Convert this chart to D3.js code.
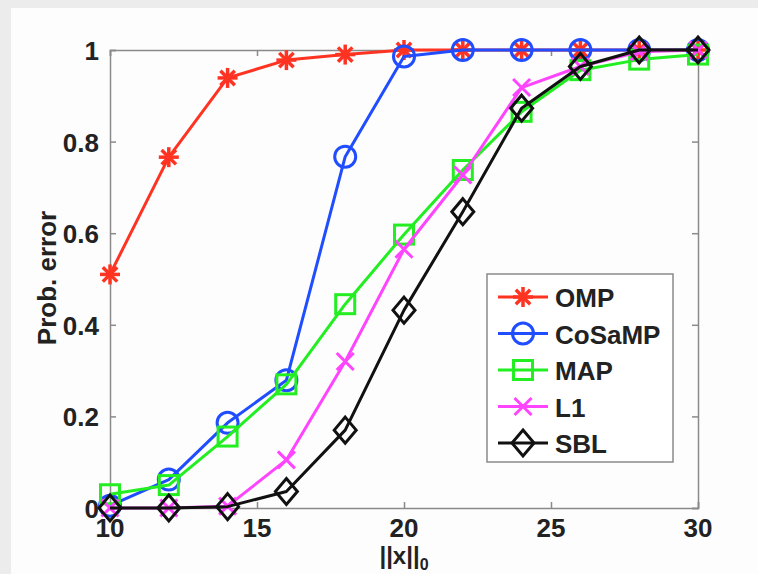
<!DOCTYPE html>
<html>
<head>
<meta charset="utf-8">
<script src="https://cdn.jsdelivr.net/npm/d3@7"></script>
<style>
  html, body { margin: 0; padding: 0; background: #ececec; }
  svg { display: block; }
  text { font-family: "Liberation Sans", Arial, Helvetica, sans-serif; font-weight: bold; fill: #222; }
</style>
</head>
<body>
<svg id="chart" width="758" height="574"></svg>
<script>
// ---- data ----
const xValues = [10, 12, 14, 16, 18, 20, 22, 24, 26, 28, 30];
const seriesNames = ["OMP", "CoSaMP", "MAP", "L1", "SBL"];
const ompValues    = [0.51, 0.766, 0.939, 0.978, 0.99, 1.0, 1.0, 1.0, 1.0, 1.0, 1.0];
const cosampValues = [0.005, 0.062, 0.186, 0.279, 0.767, 0.986, 1.0, 1.0, 1.0, 1.0, 1.0];
const mapValues    = [0.03, 0.05, 0.156, 0.27, 0.445, 0.597, 0.738, 0.865, 0.956, 0.979, 0.99];
const l1Values     = [0.0, 0.0, 0.004, 0.105, 0.32, 0.565, 0.727, 0.918, 0.964, 0.996, 1.0];
const sblValues    = [0.0, 0.0, 0.003, 0.036, 0.17, 0.432, 0.647, 0.873, 0.964, 1.0, 1.0];
const xTicks = [10, 15, 20, 25, 30];
const yTicks = [0, 0.2, 0.4, 0.6, 0.8, 1];
const yTickLabels = ["0", "0.2", "0.4", "0.6", "0.8", "1"];

const seriesValues = [ompValues, cosampValues, mapValues, l1Values, sblValues];
const colors = ["#ff3322", "#1f4dff", "#22ee22", "#ff44ff", "#111111"];
const markers = ["star", "circle", "square", "cross", "diamond"];

// ---- layout ----
const svg = d3.select("#chart");
svg.append("rect").attr("x", 11).attr("y", 8).attr("width", 747).attr("height", 566).attr("fill", "#fdfdfd");

const L = 110, R = 698, T = 50, B = 508;
const x = d3.scaleLinear().domain([10, 30]).range([L, R]);
const y = d3.scaleLinear().domain([0, 1]).range([B, T]);

const axisColor = "#8a8a8a";
const g = svg.append("g");

// axes box with inward ticks
const tickLen = 6;
g.append("g").attr("transform", `translate(0,${B})`)
  .call(d3.axisTop(x).tickValues(xTicks).tickSize(tickLen).tickFormat(""))
  .call(s => { s.selectAll("path,line").attr("stroke", axisColor).attr("stroke-width", 1.5); });
g.append("g").attr("transform", `translate(0,${T})`)
  .call(d3.axisBottom(x).tickValues(xTicks).tickSize(tickLen).tickFormat(""))
  .call(s => { s.selectAll("path,line").attr("stroke", axisColor).attr("stroke-width", 1.5); });
g.append("g").attr("transform", `translate(${L},0)`)
  .call(d3.axisRight(y).tickValues(yTicks).tickSize(tickLen).tickFormat(""))
  .call(s => { s.selectAll("path,line").attr("stroke", axisColor).attr("stroke-width", 1.5); });
g.append("g").attr("transform", `translate(${R},0)`)
  .call(d3.axisLeft(y).tickValues(yTicks).tickSize(tickLen).tickFormat(""))
  .call(s => { s.selectAll("path,line").attr("stroke", axisColor).attr("stroke-width", 1.5); });
g.selectAll(".domain").attr("fill", "none");

// tick labels
g.selectAll(".xlab").data(xTicks).enter().append("text")
  .attr("x", d => x(d)).attr("y", B + 29).attr("text-anchor", "middle")
  .attr("font-size", 26).text(d => d);
g.selectAll(".ylab").data(yTicks).enter().append("text")
  .attr("x", L - 11).attr("y", d => y(d) + 10).attr("text-anchor", "end")
  .attr("font-size", 26).text((d, i) => yTickLabels[i]);

// axis titles
const xt = g.append("text").attr("x", (L + R) / 2).attr("y", 564).attr("text-anchor", "middle").attr("font-size", 24);
xt.append("tspan").text("||x||");
xt.append("tspan").attr("font-size", 16).attr("dy", 6).text("0");
g.append("text").attr("transform", `translate(56,278) rotate(-90)`).attr("text-anchor", "middle")
  .attr("font-size", 26).text("Prob. error");

// markers
function drawMarker(sel, type, color) {
  const sw = 3;
  if (type === "star") {
    const r = 10;
    [[-r, 0, r, 0], [0, -r, 0, r], [-r * 0.72, -r * 0.72, r * 0.72, r * 0.72], [-r * 0.72, r * 0.72, r * 0.72, -r * 0.72]]
      .forEach(l => sel.append("line").attr("x1", l[0]).attr("y1", l[1]).attr("x2", l[2]).attr("y2", l[3])
        .attr("stroke", color).attr("stroke-width", sw + 0.5));
  } else if (type === "circle") {
    sel.append("circle").attr("r", 10.5).attr("fill", "none").attr("stroke", color).attr("stroke-width", sw);
  } else if (type === "square") {
    sel.append("rect").attr("x", -9.5).attr("y", -9.5).attr("width", 19).attr("height", 19)
      .attr("fill", "none").attr("stroke", color).attr("stroke-width", sw);
  } else if (type === "cross") {
    const r = 8.5;
    [[-r, -r, r, r], [-r, r, r, -r]].forEach(l => sel.append("line").attr("x1", l[0]).attr("y1", l[1])
      .attr("x2", l[2]).attr("y2", l[3]).attr("stroke", color).attr("stroke-width", sw));
  } else if (type === "diamond") {
    sel.append("path").attr("d", "M0,-13L11,0L0,13L-11,0Z").attr("fill", "none")
      .attr("stroke", color).attr("stroke-width", sw);
  }
}

const line = d3.line().x(d => x(d[0])).y(d => y(d[1]));
seriesValues.forEach((vals, i) => {
  const pts = xValues.map((xv, j) => [xv, vals[j]]);
  const sg = g.append("g");
  sg.append("path").attr("d", line(pts)).attr("fill", "none").attr("stroke", colors[i])
    .attr("stroke-width", 3).attr("stroke-linejoin", "round");
  pts.forEach(p => {
    const mg = sg.append("g").attr("transform", `translate(${x(p[0])},${y(p[1])})`);
    drawMarker(mg, markers[i], colors[i]);
  });
});

// legend
const lg = g.append("g");
const lx0 = 487, ly0 = 274, lw = 186, lh = 188;
lg.append("rect").attr("x", lx0).attr("y", ly0).attr("width", lw).attr("height", lh)
  .attr("fill", "#ffffff").attr("stroke", axisColor).attr("stroke-width", 1.5);
const rowY = d3.scalePoint().domain(seriesNames).range([297, 443]);
seriesNames.forEach((name, i) => {
  const yy = rowY(name);
  lg.append("line").attr("x1", 498).attr("x2", 548).attr("y1", yy).attr("y2", yy)
    .attr("stroke", colors[i]).attr("stroke-width", 3);
  const mg = lg.append("g").attr("transform", `translate(523,${yy})`);
  drawMarker(mg, markers[i], colors[i]);
  lg.append("text").attr("x", 555).attr("y", yy + 10).attr("font-size", 26).text(name);
});
</script>
</body>
</html>
